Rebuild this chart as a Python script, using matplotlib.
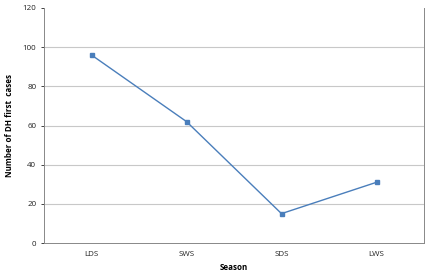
import matplotlib
matplotlib.use("Agg")
import matplotlib.pyplot as plt

seasons = ["LDS", "SWS", "SDS", "LWS"]
cases = [96, 62, 15, 31]
yticks = [0, 20, 40, 60, 80, 100, 120]

plt.rcParams['font.family'] = ['Open Sans', 'DejaVu Sans']

fig = plt.figure(figsize=(4.34, 2.73), dpi=100)
ax = fig.add_axes([44/434, 1-243/273, (424-44)/434, (243-8)/273])

x = list(range(len(seasons)))
ax.plot(x, cases, color="#4A7EBB", lw=1.0, marker="s", markersize=2.2,
        markerfacecolor="#4A7EBB", markeredgecolor="#4A7EBB")

ax.set_xlim(-0.5, len(seasons) - 0.5)
ax.set_ylim(0, 120)
ax.set_xticks(x)
ax.set_xticklabels(seasons)
ax.set_yticks(yticks)
for v in yticks[1:-1]:
    ax.axhline(v, color="#C8C8C8", lw=0.8, zorder=0)

ax.tick_params(axis="both", labelsize=5.8, colors="#222222", length=2.5, width=0.6)
ax.tick_params(axis="x", length=0, pad=6)
ax.tick_params(axis="y", direction="out", pad=3)
for s in ["left", "bottom", "right"]:
    ax.spines[s].set_color("#888888")
    ax.spines[s].set_linewidth(0.7)
ax.spines["top"].set_visible(False)

ax.set_xlabel("Season", fontsize=5.8, fontweight="bold", labelpad=3)
ax.set_ylabel("Number of DH first  cases", fontsize=5.8, fontweight="bold", labelpad=6)

fig.savefig("out.png", dpi=100)
